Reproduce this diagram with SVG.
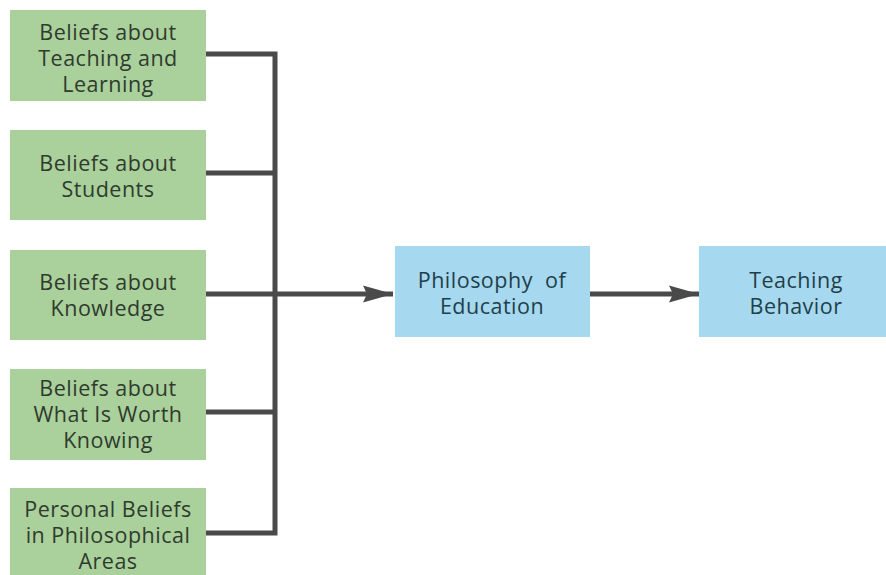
<svg xmlns="http://www.w3.org/2000/svg" width="886" height="575" viewBox="0 0 886 575">
<defs>
<style>
.g{fill:#aad09b}
.b{fill:#a6d8ef}
.t{font-family:"Open Sans","Noto Sans","Liberation Sans",sans-serif;font-size:21.5px;letter-spacing:0.5px;fill:#2f3b2e;text-anchor:middle}
.tb{fill:#1f3f4a}
.c{stroke:#4a4a4a;stroke-width:5;fill:none}
</style>
<marker id="ah" markerWidth="30" markerHeight="18" refX="30" refY="9" orient="auto" markerUnits="userSpaceOnUse" viewBox="0 0 30 18">
<path d="M0,0.5 L30,9 L0,17.5 L4,9 z" fill="#4a4a4a"/>
</marker>
</defs>
<rect width="886" height="575" fill="#fff"/>
<g id="n1"><rect class="g" x="10" y="10" width="196" height="91"/><text class="t"><tspan x="108" y="40">Beliefs about</tspan><tspan x="108" y="66">Teaching and</tspan><tspan x="108" y="92">Learning</tspan></text></g>
<g id="n2"><rect class="g" x="10" y="130" width="196" height="90"/><text class="t"><tspan x="108" y="171">Beliefs about</tspan><tspan x="108" y="197">Students</tspan></text></g>
<g id="n3"><rect class="g" x="10" y="250" width="196" height="90"/><text class="t"><tspan x="108" y="290">Beliefs about</tspan><tspan x="108" y="316">Knowledge</tspan></text></g>
<g id="n4"><rect class="g" x="10" y="369" width="196" height="91"/><text class="t"><tspan x="108" y="396">Beliefs about</tspan><tspan x="108" y="422">What Is Worth</tspan><tspan x="108" y="448">Knowing</tspan></text></g>
<g id="n5"><rect class="g" x="10" y="488" width="196" height="95"/><text class="t"><tspan x="108" y="517">Personal Beliefs</tspan><tspan x="108" y="543">in Philosophical</tspan><tspan x="108" y="569">Areas</tspan></text></g>
<g id="n6"><rect class="b" x="395" y="246" width="195" height="91"/><text class="t tb"><tspan x="492" y="288">Philosophy&#160; of</tspan><tspan x="492" y="314">Education</tspan></text></g>
<g id="n7"><rect class="b" x="699" y="246" width="187" height="91"/><text class="t tb"><tspan x="796" y="288">Teaching</tspan><tspan x="796" y="314">Behavior</tspan></text></g>
<g id="connectors">
<path class="c" d="M206,54 H275 V533 H206"/>
<path class="c" d="M206,173 H275"/>
<path class="c" d="M206,412 H275"/>
<path class="c" d="M206,294 H393" marker-end="url(#ah)"/>
<path class="c" d="M590,294 H699" marker-end="url(#ah)"/>
</g>
</svg>
